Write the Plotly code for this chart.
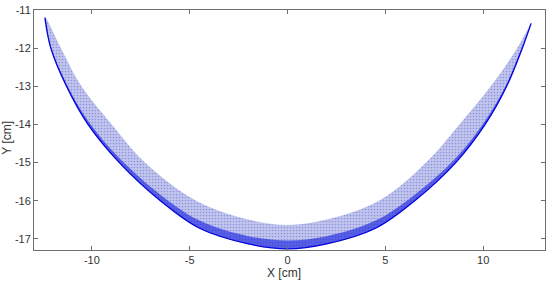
import plotly.graph_objects as go

# band edges (x in cm, y in cm)
lower_x = [-12.4, -12.1, -11.3, -10.2, -8.6, -6.5, -4.5, -2.0, 0, 2.0, 4.5, 6.5, 8.6, 10.1, 11.2, 12.0, 12.45]
lower_y = [-11.2, -12.0, -13.0, -14.0, -15.0, -16.0, -16.72, -17.13, -17.26, -17.13, -16.72, -16.0, -15.0, -14.0, -13.0, -12.0, -11.35]
# top of the dense (dark) strip along the bottom of the band
dense_y = [-11.2, -11.95, -12.93, -13.9, -14.88, -15.84, -16.52, -16.93, -17.04, -16.93, -16.52, -15.84, -14.88, -13.9, -12.93, -11.95, -11.35]
upper_x = [-12.4, -11.6, -10.55, -9.0, -7.3, -4.7, -2.0, 0, 2.0, 4.7, 7.1, 8.8, 10.4, 11.75, 12.45]
upper_y = [-11.2, -12.0, -13.0, -14.0, -15.0, -16.0, -16.5, -16.64, -16.5, -16.0, -15.0, -14.0, -13.0, -12.0, -11.35]

x_ticks = [-10, -5, 0, 5, 10]
y_ticks = [-17, -16, -15, -14, -13, -12, -11]

font = "Liberation Sans, Arial"
fig = go.Figure()

# whole band as one closed shape
fig.add_trace(go.Scatter(
    x=lower_x + upper_x[::-1], y=lower_y + upper_y[::-1],
    mode="lines", fill="toself",
    fillcolor="rgba(120,128,215,0.45)",
    fillpattern=dict(shape=".", fgcolor="rgba(40,50,200,0.7)", size=3, solidity=0.25),
    line=dict(color="rgba(130,138,220,0.5)", width=0.5, shape="spline"),
    hoverinfo="skip", showlegend=False))

# darker strip near the bottom
fig.add_trace(go.Scatter(
    x=lower_x + lower_x[::-1], y=lower_y + dense_y[::-1],
    mode="lines", fill="toself",
    fillcolor="rgba(30,40,225,0.65)",
    line=dict(width=0, shape="spline"),
    hoverinfo="skip", showlegend=False))

fig.add_trace(go.Scatter(
    x=lower_x, y=lower_y, mode="lines",
    line=dict(color="#0505dd", width=1.3, shape="spline"),
    hoverinfo="skip", showlegend=False))

axis_common = dict(
    showline=True, linecolor="#6e6e6e", linewidth=1, mirror="allticks",
    ticks="inside", ticklen=4, tickcolor="#6e6e6e",
    showgrid=False, zeroline=False,
    tickfont=dict(family=font, size=11, color="#333"),
)

fig.update_xaxes(range=[-12.96, 13.16], tickvals=x_ticks,
                 ticktext=[str(v) for v in x_ticks], **axis_common)
fig.update_yaxes(range=[-17.29, -11], tickvals=y_ticks,
                 ticktext=[str(v) for v in y_ticks], **axis_common)

fig.add_annotation(text="X [cm]", xref="paper", yref="paper", x=0.49, y=-0.097,
                   yanchor="middle", showarrow=False,
                   font=dict(family=font, size=12, color="#333"))
fig.add_annotation(text="Y [cm]", xref="paper", yref="paper", x=-0.052, y=0.47,
                   xanchor="center", yanchor="middle", textangle=-90, showarrow=False,
                   font=dict(family=font, size=12, color="#333"))

fig.update_layout(
    width=550, height=282,
    margin=dict(l=34, r=4, t=8, b=32),
    plot_bgcolor="white", paper_bgcolor="white",
)

# drop the page's default body margin so the figure sits at the top-left corner
fig.write_html("out.html", config={"displayModeBar": False},
               post_script="document.body.style.margin='0';")
